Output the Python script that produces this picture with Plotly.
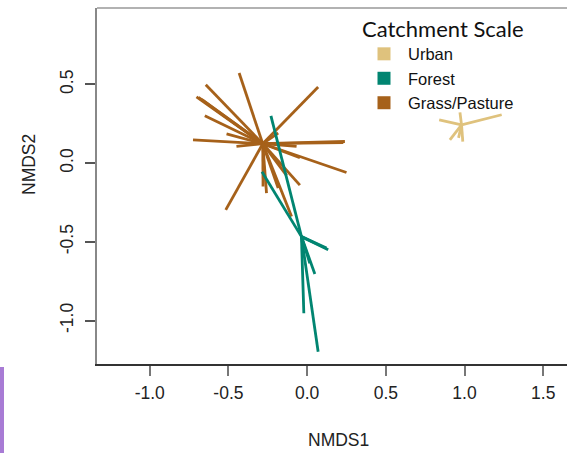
import plotly.graph_objects as go

# ---- data (NMDS scores) ----
groups = ["Urban", "Forest", "Grass/Pasture"]
colors = ["#dfc27d", "#018571", "#a6611a"]

urban_centroid = (0.981, 0.243)
urban_x = [1.236, 0.839, 0.907, 0.989, 0.971, 0.962]
urban_y = [0.307, 0.275, 0.148, 0.137, 0.322, 0.160]

forest_centroid = (-0.036, -0.467)
forest_x = [-0.230, -0.287, 0.134, 0.123, 0.049, -0.021, 0.070, 0.017]
forest_y = [0.300, -0.055, -0.551, -0.540, -0.704, -0.954, -1.198, -0.636]

grass_centroid = (-0.282, 0.123)
grass_x = [-0.432, -0.644, -0.703, -0.690, -0.670, -0.650, -0.725, -0.512, -0.449,
           0.070, 0.240, 0.230, 0.250, -0.046, -0.067, -0.046, -0.184, -0.517,
           -0.258, -0.280, -0.184, -0.099, -0.130]
grass_y = [0.572, 0.498, 0.420, 0.418, 0.405, 0.301, 0.148, 0.186, 0.106,
           0.483, 0.137, 0.130, -0.060, -0.140, 0.106, 0.034, 0.191, -0.297,
           -0.191, -0.149, -0.159, -0.339, -0.080]

x_ticks = [-1.0, -0.5, 0.0, 0.5, 1.0, 1.5]
y_ticks = [-1.0, -0.5, 0.0, 0.5]

series = [
    (urban_centroid, urban_x, urban_y),
    (forest_centroid, forest_x, forest_y),
    (grass_centroid, grass_x, grass_y),
]

fig = go.Figure()

order = [2, 1, 0]
for i in order:
    (cx, cy), xs, ys = series[i]
    sx, sy = [], []
    for px, py in zip(xs, ys):
        sx += [cx, px, None]
        sy += [cy, py, None]
    fig.add_trace(go.Scatter(x=sx, y=sy, mode="lines",
                             line=dict(color=colors[i], width=2.8),
                             showlegend=False, hoverinfo="skip"))

for name, col in zip(groups, colors):
    fig.add_trace(go.Scatter(x=[None], y=[None], mode="markers", name=name,
                             marker=dict(symbol="square", size=13, color=col)))

tickfont = dict(family="Liberation Sans, Arial, sans-serif", size=17.5, color="#222")

fig.update_layout(
    width=567, height=453,
    margin=dict(l=97, r=0, t=8, b=89),
    paper_bgcolor="white", plot_bgcolor="white",
    showlegend=True,
    legend=dict(
        x=(360 - 97) / 470, y=1.0, xanchor="left", yanchor="top",
        bgcolor="rgba(0,0,0,0)",
        font=dict(family="Liberation Sans, Arial, sans-serif", size=16.5, color="#111"),
        title=dict(text="Catchment Scale",
                   font=dict(family="Lato, Open Sans, sans-serif", size=22, color="#111")),
        tracegroupgap=0, itemwidth=38,
    ),
    xaxis=dict(
        range=[-1.335, 1.651], tickvals=x_ticks, ticktext=[f"{v:.1f}" for v in x_ticks],
        showgrid=False, zeroline=False, showline=True, linecolor="#333", linewidth=1.5,
        ticks="outside", ticklen=10, tickcolor="#777", tickwidth=1.5,
        tickfont=tickfont, ticklabelstandoff=2,
    ),
    yaxis=dict(
        range=[-1.276, 0.985], tickvals=y_ticks, ticktext=[f"{v:.1f}" for v in y_ticks],
        showgrid=False, zeroline=False, showline=True, linecolor="#888", linewidth=1.5,
        ticks="outside", ticklen=10, tickcolor="#555", tickwidth=1.5,
        tickfont=tickfont, tickangle=-90, ticklabelstandoff=5,
    ),
    shapes=[
        dict(type="line", xref="paper", yref="paper", x0=0, x1=1, y0=1, y1=1,
             line=dict(color="#999", width=1.5)),
        dict(type="rect", xref="paper", yref="paper",
             x0=(0 - 97) / 470, x1=(4 - 97) / 470,
             y0=(364 - 453) / 356, y1=(364 - 367) / 356,
             fillcolor="#a87bd5", line=dict(width=0), layer="above"),
    ],
    annotations=[
        dict(text="NMDS1", xref="paper", yref="paper", x=(338 - 97) / 470,
             y=(364 - 440) / 356, xanchor="center", yanchor="middle", showarrow=False,
             font=dict(family="Liberation Sans, Arial, sans-serif", size=17.5, color="#222")),
        dict(text="NMDS2", xref="paper", yref="paper", x=(29 - 97) / 470,
             y=(364 - 165) / 356, xanchor="center", yanchor="middle", showarrow=False,
             textangle=-90,
             font=dict(family="Liberation Sans, Arial, sans-serif", size=17.5, color="#222")),
    ],
)

fig.write_html("out.html")
